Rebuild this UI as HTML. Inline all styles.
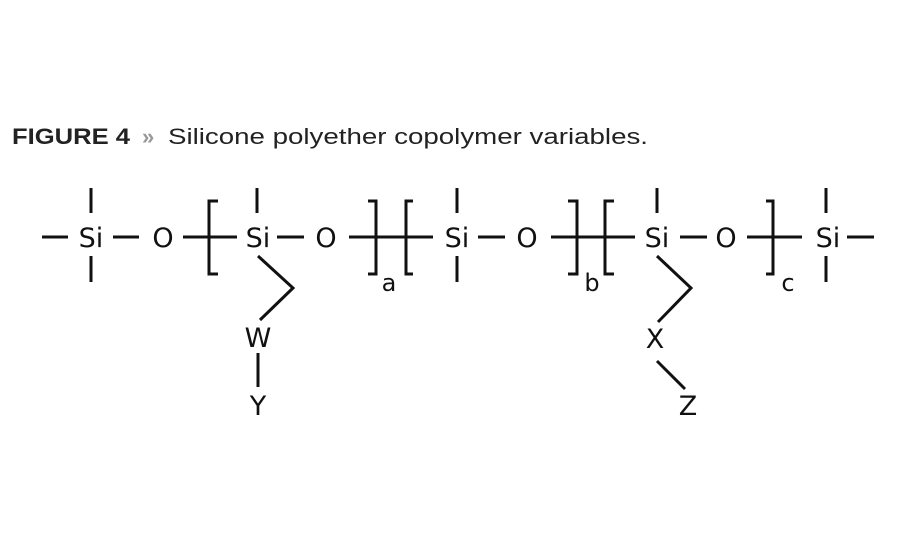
<!DOCTYPE html>
<html><head><style>html,body{margin:0;padding:0;background:#fff;}</style></head>
<body>
<svg width="900" height="550" xmlns="http://www.w3.org/2000/svg" style="display:block">
<g font-family="Liberation Sans, DejaVu Sans, sans-serif">
<text x="12" y="144" font-size="22" font-weight="bold" fill="#222" textLength="118" lengthAdjust="spacingAndGlyphs">FIGURE 4</text>
<text x="142" y="144" font-size="22" font-weight="bold" fill="#999">»</text>
<text x="168" y="144" font-size="22" fill="#222" textLength="480" lengthAdjust="spacingAndGlyphs">Silicone polyether copolymer variables.</text>
</g>
<g stroke="#111" stroke-width="3" fill="none">
<line x1="42" y1="237" x2="68" y2="237"/>
<line x1="91" y1="188" x2="91" y2="213"/><line x1="91" y1="256" x2="91" y2="282"/>
<line x1="113" y1="237" x2="139" y2="237"/>
<line x1="183" y1="237" x2="237" y2="237"/>
<polyline points="218,201 209,201 209,274 218,274"/>
<line x1="257" y1="188" x2="257" y2="213"/>
<line x1="277" y1="237" x2="304" y2="237"/>
<line x1="349" y1="237" x2="433" y2="237"/>
<polyline points="368,201 376,201 376,274 368,274"/>
<polyline points="413,201 406,201 406,274 413,274"/>
<polyline points="258,256 293,288 260,320"/>
<line x1="258" y1="353" x2="258" y2="387"/>
<line x1="457" y1="188" x2="457" y2="213"/><line x1="457" y1="256" x2="457" y2="282"/>
<line x1="478" y1="237" x2="505" y2="237"/>
<line x1="551" y1="237" x2="635" y2="237"/>
<polyline points="568,201 577,201 577,274 568,274"/>
<polyline points="614,201 605,201 605,274 614,274"/>
<line x1="657" y1="188" x2="657" y2="213"/>
<line x1="680" y1="237" x2="707" y2="237"/>
<line x1="747" y1="237" x2="802" y2="237"/>
<polyline points="766,201 773,201 773,274 766,274"/>
<line x1="826" y1="188" x2="826" y2="213"/><line x1="826" y1="256" x2="826" y2="282"/>
<line x1="847" y1="237" x2="874" y2="237"/>
<polyline points="657,256 691,288 658,322"/>
<line x1="657" y1="361" x2="685" y2="389"/>
</g>
<g font-family="DejaVu Sans, Liberation Sans, sans-serif" font-size="27" fill="#111" text-anchor="middle">
<text x="91" y="247">Si</text><text x="163" y="247">O</text>
<text x="258" y="247">Si</text><text x="326" y="247">O</text>
<text x="457" y="247">Si</text><text x="527" y="247">O</text>
<text x="657" y="247">Si</text><text x="726" y="247">O</text>
<text x="828" y="247">Si</text>
<text x="258" y="347">W</text><text x="258" y="415">Y</text>
<text x="655" y="348">X</text><text x="688" y="415">Z</text>
<text x="389" y="291" font-size="24">a</text>
<text x="592" y="291" font-size="24">b</text>
<text x="788" y="291" font-size="24">c</text>
</g>
</svg>
</body></html>
